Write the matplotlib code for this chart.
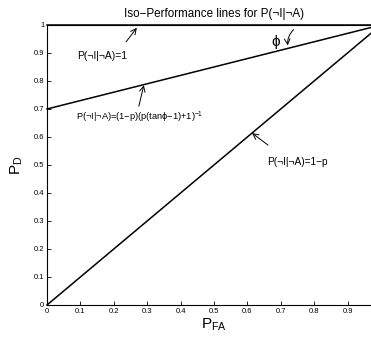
import matplotlib.pyplot as plt

plt.rcParams['font.family'] = ['Liberation Sans', 'DejaVu Sans']
plt.rcParams['mathtext.fontset'] = 'custom'
plt.rcParams['mathtext.rm'] = 'Liberation Sans'
plt.rcParams['mathtext.it'] = 'Liberation Sans'

# datos de las lineas
p_fa = [0, 1]
pd_ideal = [1, 1]
pd_iso = [0.7, 1.0]
pd_chance = [0, 1]

x_ticks = [0, 0.1, 0.2, 0.3, 0.4, 0.5, 0.6, 0.7, 0.8, 0.9]
y_ticks = [0, 0.1, 0.2, 0.3, 0.4, 0.5, 0.6, 0.7, 0.8, 0.9, 1]

fig = plt.figure(figsize=(3.71, 3.39), dpi=100)
ax = fig.add_axes([0.1267, 0.1003, 0.9, 0.826])

ax.plot(p_fa, pd_ideal, color='black', lw=1.1, clip_on=False)
ax.plot(p_fa, pd_iso, color='black', lw=1.1, clip_on=False)
ax.plot(p_fa, pd_chance, color='black', lw=1.1, clip_on=False)

ax.set_xlim(0, 1)
ax.set_ylim(0, 1)
ax.set_xticks(x_ticks)
ax.set_xticklabels([('%g' % t) for t in x_ticks])
ax.set_yticks(y_ticks)
ax.set_yticklabels([('%g' % t) for t in y_ticks])
ax.tick_params(direction='in', labelsize=5.5, length=3, width=0.6, pad=2)
for s in ax.spines.values():
    s.set_linewidth(0.8)

ax.set_title('Iso\u2212Performance lines for P(\u00acI|\u00acA)', fontsize=8.4, pad=6)
ax.set_xlabel('P$_{\\mathregular{FA}}$', fontsize=11, labelpad=1)
ax.set_ylabel('P$_{\\mathregular{D}}$', fontsize=11, labelpad=6)

arrow = dict(arrowstyle='->', color='black', lw=0.7, shrinkA=0, shrinkB=0)
ax.text(0.09, 0.89, 'P(\u00acI|\u00acA)=1', fontsize=7.5, va='center')
ax.annotate('', xy=(0.269, 0.99), xytext=(0.237, 0.94), arrowprops=arrow)
ax.text(0.088, 0.67,
        'P(\u00acI|\u00acA)=(1\u2212p)(p(tan\u03d5\u22121)+1)$^{\\mathregular{\u22121}}$',
        fontsize=6.7, va='center')
ax.annotate('', xy=(0.29, 0.785), xytext=(0.275, 0.71), arrowprops=arrow)
ax.text(0.66, 0.51, 'P(\u00acI|\u00acA)=1\u2212p', fontsize=7.3, va='center')
ax.annotate('', xy=(0.614, 0.614), xytext=(0.662, 0.571), arrowprops=arrow)
ax.text(0.685, 0.94, '\u03d5', fontsize=11, ha='center', va='center')
ax.annotate('', xy=(0.722, 0.917), xytext=(0.745, 0.99),
            arrowprops=dict(arrowstyle='->', color='black', lw=0.7,
                            connectionstyle='arc3,rad=0.3'))

fig.savefig('out.png', dpi=100)
